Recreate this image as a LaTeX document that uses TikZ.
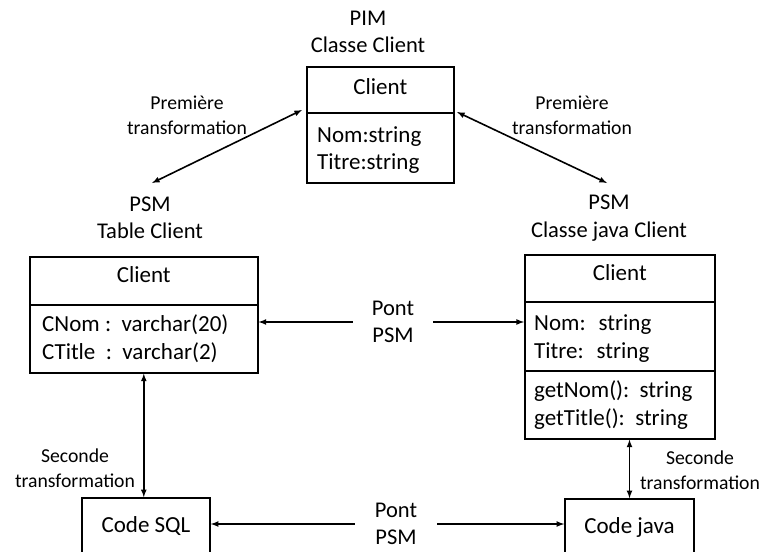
\documentclass[tikz,border=0pt]{standalone}
\usepackage{fontspec}
\setmainfont{Carlito}
\usepackage{tikz}
\usetikzlibrary{arrows}

\begin{document}
\begin{tikzpicture}[x=1pt,y=-1pt,>=latex,
    box/.style={draw, line width=1.6pt, inner sep=0pt},
    sep/.style={line width=1.6pt},
    big/.style={font=\fontsize{23}{27}\selectfont, inner sep=0pt},
    title/.style={font=\fontsize{22.5}{27.5}\selectfont, align=center, inner sep=0pt},
    lab/.style={font=\fontsize{19.7}{25}\selectfont, align=center, inner sep=0pt},
    link/.style={<->, line width=1.6pt},
    half/.style={->, line width=1.6pt}]

\useasboundingbox (0,0) rectangle (762,551);

% PIM
\node[title] (pimt) at (368,32) {PIM\\Classe Client};
\node[box, anchor=north west, minimum width=147pt, minimum height=116pt] (pim) at (306,66) {};
\coordinate (pimd) at (306,113);
\draw[sep] (pimd) -- (pimd -| pim.east);
\node[big, anchor=base] (pimc) at (pim.north |- 0,94) {Client};
\foreach \t/\y [count=\i] in {Nom:string/142, Titre:string/169}
    \node[big, anchor=base west] (pima\i) at (317,\y) {\t};

% PSM table
\node[title] (psmlt) at (150,218) {PSM\\Table Client};
\node[box, anchor=north west, minimum width=228pt, minimum height=116pt] (psml) at (29,256) {};
\coordinate (psmld) at (29,305);
\draw[sep] (psmld) -- (psmld -| psml.east);
\node[big, anchor=base] (psmlc) at (psml.north |- 0,282) {Client};
\node[big, anchor=base west] (psmla1) at (42,331) {CNom :\ \ varchar(20)};
\node[big, anchor=base west] (psmla2) at (42,359) {CTitle \ :\ \ varchar(2)};

% PSM java
\node[title] (psmrt) at (609,218) {PSM\\Classe java Client};
\node[box, anchor=north west, minimum width=190pt, minimum height=184pt] (psmr) at (524,254) {};
\foreach \y [count=\i] in {302,371} {
    \coordinate (psmrd\i) at (524,\y);
    \draw[sep] (psmrd\i) -- (psmrd\i -| psmr.east);
}
\node[big, anchor=base] (psmrc) at (psmr.north |- 0,280) {Client};
\foreach \t/\y [count=\i] in {Nom:\hspace{13pt}string/330, Titre:\hspace{13pt}string/358,
    getNom():\ \ string/397, getTitle():\ \ string/425}
    \node[big, anchor=base west] (psmra\i) at (534,\y) {\t};

% code
\node[box, big, minimum width=128pt, minimum height=56pt] (sql) at (146,526) {Code SQL};
\node[box, big, minimum width=129pt, minimum height=56pt] (java) at (629.5,527) {Code java};

% transformations
\coordinate (pl) at (302,110);
\coordinate (pr) at (457,112);
\coordinate (tl) at (152,183);
\coordinate (tr) at (607,183);
\draw[link] (pl) -- (tl);
\draw[link] (pr) -- (tr);
\node[lab] (l1) at (187,115) {Première\\transformation};
\node[lab] (l2) at (572,115) {Première\\transformation};

\draw[link] (psml.south) -- (psml.south |- sql.north);
\draw[link] (java.north) -- (java.north |- psmr.south);
\node[lab] (l3) at (75,468) {Seconde\\transformation};
\node[lab] (l4) at (700,470) {Seconde\\transformation};

% ponts
\node[title, inner xsep=19pt] (pont1) at (393,322) {Pont\\PSM};
\draw[half] (pont1) -- (psml.east |- pont1);
\draw[half] (pont1) -- (psmr.west |- pont1);
\node[title, inner xsep=20pt] (pont2) at (396,524) {Pont\\PSM};
\draw[half] (pont2) -- (sql.east |- pont2);
\draw[half] (pont2) -- (java.west |- pont2);

\end{tikzpicture}
\end{document}
